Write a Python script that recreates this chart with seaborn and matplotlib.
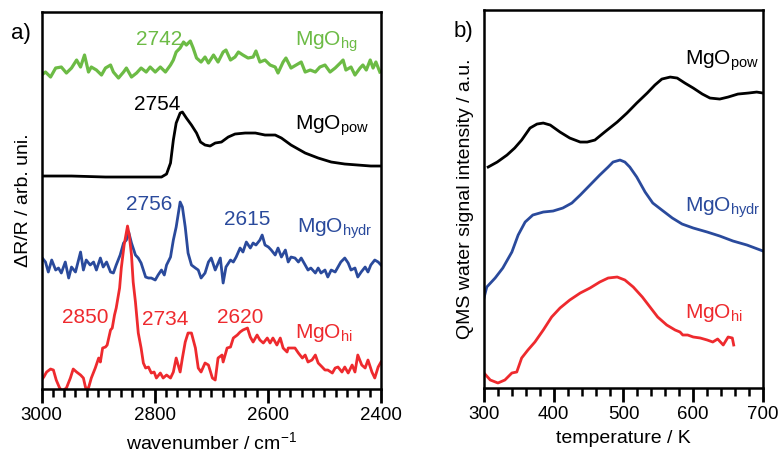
import matplotlib
matplotlib.use("Agg")
import matplotlib.pyplot as plt
import seaborn as sns
import pandas as pd
import numpy as np

# ---------------- panel a) : DRIFT spectra (offset, arb. units) ----------------
hg_wn = [3000, 2993, 2984, 2975, 2965, 2956, 2947, 2938, 2931, 2924, 2917, 2912, 2903, 2894,
         2887, 2878, 2873, 2864, 2855, 2850, 2841, 2832, 2824, 2815, 2808, 2799, 2790, 2781,
         2772, 2767, 2762, 2755, 2749, 2744, 2737, 2732, 2726, 2718, 2711, 2705, 2696, 2688,
         2679, 2674, 2666, 2658, 2652, 2644, 2635, 2626, 2621, 2614, 2605, 2596, 2587, 2582,
         2573, 2568, 2559, 2550, 2541, 2534, 2525, 2516, 2508, 2499, 2490, 2481, 2472, 2467,
         2462, 2453, 2446, 2437, 2432, 2426, 2419, 2414, 2409, 2402]
hg_int = [323, 326, 321, 330, 331, 325, 330, 338, 331, 343, 326, 331, 328, 323,
          330, 333, 326, 320, 326, 330, 321, 325, 330, 326, 331, 326, 331, 326,
          333, 338, 346, 350, 356, 353, 357, 350, 340, 336, 341, 335, 343, 336,
          346, 348, 338, 341, 346, 343, 340, 341, 347, 336, 338, 333, 331, 325,
          336, 340, 330, 333, 336, 326, 328, 326, 331, 333, 326, 330, 335, 338,
          328, 331, 323, 330, 333, 328, 338, 330, 336, 326]

pow_wn = [3000, 2947, 2887, 2829, 2788, 2779, 2772, 2767, 2762, 2755, 2751, 2744, 2735, 2726,
          2719, 2711, 2702, 2693, 2682, 2670, 2658, 2640, 2622, 2605, 2587, 2576, 2559, 2534,
          2511, 2488, 2464, 2441, 2418, 2402]
pow_int = [222, 222, 221, 221, 221, 224, 235, 258, 275, 285, 286, 280, 273, 265,
           256, 253, 252, 255, 256, 261, 264, 265, 265, 263, 263, 260, 253, 245,
           240, 236, 234, 233, 232, 232]

hydr_wn = [3000, 2993, 2988, 2982, 2975, 2970, 2965, 2958, 2952, 2947, 2940, 2931, 2926, 2921,
           2914, 2908, 2903, 2896, 2891, 2885, 2878, 2873, 2868, 2861, 2855, 2850, 2846, 2841,
           2834, 2829, 2824, 2816, 2811, 2806, 2799, 2794, 2788, 2783, 2779, 2772, 2767, 2762,
           2755, 2751, 2746, 2741, 2735, 2728, 2723, 2718, 2711, 2705, 2700, 2693, 2684, 2679,
           2674, 2666, 2661, 2656, 2649, 2644, 2638, 2631, 2626, 2621, 2614, 2610, 2605, 2599,
           2594, 2587, 2582, 2576, 2569, 2564, 2559, 2552, 2546, 2541, 2534, 2529, 2524, 2516,
           2511, 2506, 2499, 2494, 2488, 2481, 2476, 2471, 2464, 2458, 2453, 2446, 2441, 2435,
           2428, 2423, 2418, 2411, 2405, 2400]
hydr_int = [141, 136, 126, 138, 128, 130, 125, 136, 120, 131, 126, 146, 128, 138,
            133, 136, 128, 140, 131, 136, 126, 125, 133, 143, 155, 158, 166, 155,
            143, 140, 135, 121, 120, 120, 118, 123, 128, 123, 133, 141, 158, 171,
            196, 191, 171, 145, 133, 130, 128, 120, 125, 136, 140, 128, 140, 115,
            131, 138, 136, 141, 150, 146, 156, 150, 155, 153, 158, 163, 153, 151,
            148, 143, 150, 141, 148, 136, 141, 140, 136, 140, 133, 128, 130, 125,
            130, 125, 128, 121, 128, 126, 131, 136, 140, 135, 128, 130, 121, 126,
            131, 126, 133, 138, 136, 133]

hi_wn = [3000, 2996, 2991, 2984, 2979, 2974, 2968, 2965, 2961, 2956, 2949, 2944, 2938, 2931,
         2926, 2922, 2917, 2912, 2905, 2899, 2896, 2892, 2887, 2884, 2878, 2875, 2871, 2868,
         2862, 2859, 2854, 2848, 2845, 2841, 2838, 2834, 2829, 2824, 2820, 2816, 2811, 2806,
         2801, 2797, 2790, 2785, 2779, 2772, 2767, 2762, 2755, 2751, 2746, 2741, 2735, 2728,
         2723, 2718, 2711, 2705, 2698, 2693, 2688, 2681, 2679, 2672, 2666, 2661, 2654, 2649,
         2644, 2636, 2631, 2626, 2619, 2614, 2608, 2601, 2596, 2591, 2584, 2578, 2573, 2566,
         2564, 2552, 2546, 2539, 2534, 2529, 2522, 2516, 2511, 2504, 2499, 2494, 2486, 2481,
         2476, 2469, 2464, 2458, 2451, 2446, 2441, 2434, 2428, 2423, 2416, 2411, 2405, 2400]
hi_int = [18, 21, 26, 29, 28, 18, 10, 8, 8, 10, 20, 29, 26, 23,
          20, 10, 10, 20, 30, 40, 36, 50, 51, 53, 68, 70, 83, 90,
          110, 130, 153, 172, 163, 143, 116, 96, 65, 50, 35, 30, 31, 25,
          26, 20, 25, 20, 23, 20, 26, 40, 26, 40, 56, 65, 65, 50,
          30, 26, 35, 33, 20, 18, 40, 43, 36, 50, 51, 60, 63, 66,
          68, 70, 61, 56, 63, 58, 55, 60, 55, 60, 53, 60, 50, 46,
          50, 50, 45, 40, 43, 36, 38, 43, 35, 31, 28, 28, 25, 30,
          31, 26, 31, 25, 33, 26, 43, 33, 30, 38, 26, 20, 31, 36]

peak_labels_a = [("2742", 2792, 353, "#6cbb45"), ("2754", 2796, 288, "black"),
                 ("2756", 2810, 188, "#2a4a9c"), ("2615", 2637, 173, "#2a4a9c"),
                 ("2850", 2922, 75, "#ee2a2e"), ("2734", 2782, 73, "#ee2a2e"),
                 ("2620", 2648, 75, "#ee2a2e")]

# ---------------- panel b) : TPD water signal (offset, a.u.) ----------------
tpow_T = [306, 319, 333, 344, 354, 366, 376, 385, 395, 409, 423, 438, 448, 459, 473, 491,
          505, 519, 534, 545, 555, 567, 577, 588, 600, 613, 624, 638, 650, 664, 679, 691, 700]
tpow_I = [221, 226, 233, 240, 248, 260, 264, 265, 263, 256, 250, 246, 246, 248, 256, 266,
          275, 285, 295, 303, 309, 311, 310, 305, 300, 294, 290, 289, 291, 294, 295, 296, 295]

thydr_T = [300, 304, 316, 327, 340, 349, 359, 370, 385, 399, 413, 426, 438, 452, 466, 478,
           485, 495, 502, 509, 519, 531, 542, 555, 570, 584, 600, 620, 638, 657, 677, 700]
thydr_I = [90, 101, 110, 120, 136, 153, 166, 173, 176, 177, 180, 185, 193, 203, 213, 221,
           226, 228, 226, 221, 211, 196, 185, 178, 170, 164, 160, 156, 152, 147, 143, 137]

thi_T = [300, 309, 320, 330, 340, 347, 354, 363, 373, 385, 397, 409, 423, 438, 452, 466,
         478, 491, 502, 514, 527, 538, 549, 562, 574, 581, 585, 592, 600, 610, 620, 628,
         635, 643, 650, 656, 658]
thi_I = [15, 8, 5, 8, 15, 16, 30, 38, 46, 58, 71, 80, 88, 95, 100, 106,
         110, 111, 108, 101, 91, 81, 71, 63, 58, 56, 53, 53, 51, 50, 48, 46,
         49, 43, 51, 50, 43]

GREEN, BLACK, BLUE, RED = "#6cbb45", "black", "#2a4a9c", "#ee2a2e"

plt.rcParams["font.family"] = ["Liberation Sans", "DejaVu Sans"]
plt.rcParams["mathtext.fontset"] = "custom"
plt.rcParams["mathtext.rm"] = "Liberation Sans"
plt.rcParams["mathtext.it"] = "Liberation Sans"

fig = plt.figure(figsize=(7.82, 4.66), dpi=100)
axa = fig.add_axes([0.0531, 0.1652, 0.4341, 0.809])
axb = fig.add_axes([0.6189, 0.1674, 0.3568, 0.811])

for wn, it, col, lw in [(hg_wn, hg_int, GREEN, 2.3), (pow_wn, pow_int, BLACK, 2.0),
                        (hydr_wn, hydr_int, BLUE, 2.0), (hi_wn, hi_int, RED, 2.0)]:
    sns.lineplot(x=wn, y=it, ax=axa, color=col, lw=lw, estimator=None, sort=False)

for T, it, col in [(tpow_T, tpow_I, BLACK), (thydr_T, thydr_I, BLUE), (thi_T, thi_I, RED)]:
    sns.lineplot(x=T, y=it, ax=axb, color=col, lw=2.0, estimator=None, sort=False)

axa.set_xlim(3000, 2400)
axa.set_ylim(9, 386)
axb.set_xlim(300, 700)
axb.set_ylim(0, 378)

for ax, (lo, hi, maj) in [(axa, (2400, 3000, 200)), (axb, (300, 700, 100))]:
    ax.set_xticks(np.arange(lo, hi + 1, maj))
    ax.set_xticks(np.arange(lo, hi + 1, 20), minor=True)
    ax.tick_params(axis="x", which="major", direction="out", length=10, width=2,
                   colors="black", labelsize=13.5, pad=3)
    ax.tick_params(axis="x", which="minor", direction="out", length=6, width=1.8,
                   colors="black")
    ax.tick_params(axis="y", which="both", left=False, labelleft=False)
    for s in ax.spines.values():
        s.set_linewidth(1.8)
        s.set_color("black")

axa.set_xlabel(r"wavenumber / cm$^{\mathregular{-1}}$", fontsize=14, labelpad=5)
axa.set_ylabel("ΔR/R / arb. uni.", fontsize=14, labelpad=7)
axb.set_xlabel("temperature / K", fontsize=14, labelpad=5)
axb.set_ylabel("QMS water signal intensity / a.u.", fontsize=14, labelpad=7)

for txt, x, y, col in peak_labels_a:
    axa.text(x, y, txt, color=col, fontsize=15, ha="center", va="baseline")

axa.text(2552, 352, r"$\mathregular{MgO_{hg}}$", color=GREEN, fontsize=15, va="baseline")
axa.text(2552, 268, r"$\mathregular{MgO_{pow}}$", color=BLACK, fontsize=15, va="baseline")
axa.text(2548, 165, r"$\mathregular{MgO_{hydr}}$", color=BLUE, fontsize=15, va="baseline")
axa.text(2552, 60, r"$\mathregular{MgO_{hi}}$", color=RED, fontsize=15, va="baseline")

axb.text(588, 323, r"$\mathregular{MgO_{pow}}$", color=BLACK, fontsize=15, va="baseline")
axb.text(588, 176, r"$\mathregular{MgO_{hydr}}$", color=BLUE, fontsize=15, va="baseline")
axb.text(588, 70, r"$\mathregular{MgO_{hi}}$", color=RED, fontsize=15, va="baseline")

fig.text(21 / 782, 1 - 33 / 466, "a)", fontsize=16, ha="center", va="center")
fig.text(463 / 782, 1 - 31 / 466, "b)", fontsize=16, ha="center", va="center")

fig.savefig("out.png", dpi=100)
